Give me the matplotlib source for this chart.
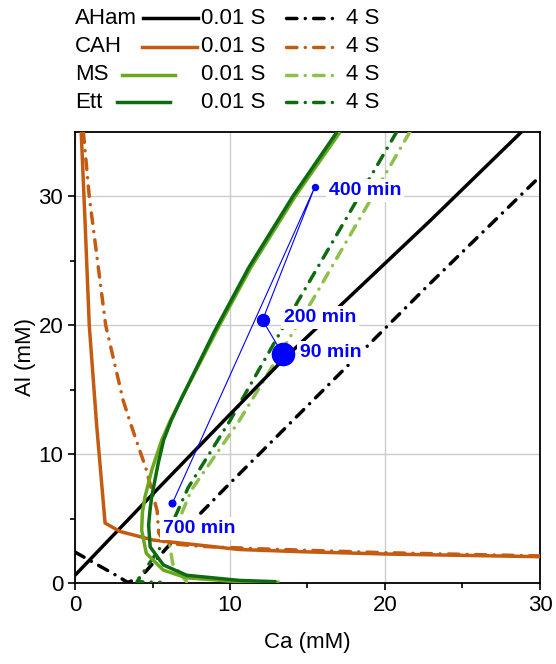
import matplotlib
matplotlib.use('Agg')
import matplotlib.pyplot as plt
from matplotlib.lines import Line2D

plt.rcParams['font.family'] = ['Liberation Sans', 'DejaVu Sans']
plt.rcParams['font.size'] = 16

# AHam
ca_aham_001 = [0, 4.85, 13.4, 22.9, 28.8]
al_aham_001 = [0.6, 6.7, 17.3, 28.1, 35]
ca_aham_4 = [0, 2.5, 3.4, 4.2, 5.9, 9.8, 22.7, 30]
al_aham_4 = [2.4, 0.7, 0.05, 0.4, 2.7, 7.5, 23.0, 31.55]

# CAH
ca_cah_001 = [0.4, 0.65, 0.92, 1.4, 1.94, 2.9, 5.05, 10.6, 14.5, 20, 30]
al_cah_001 = [35, 28, 20, 12.2, 4.65, 4.0, 3.33, 2.6, 2.43, 2.25, 2.04]
ca_cah_4 = [0.54, 0.92, 1.98, 3.1, 3.55, 4.6, 5.3, 5.4, 5.8, 8, 12, 20, 30]
al_cah_4 = [35, 30, 20, 14.2, 12.5, 8.8, 5.6, 3.9, 3.1, 2.85, 2.65, 2.35, 2.1]

# MS
ca_ms_001 = [17.1, 14.2, 11.35, 9.14, 6.9, 6.15, 5.6, 4.95, 4.52, 4.35, 4.3, 4.6, 5.7, 7.2, 10.6, 13.2]
al_ms_001 = [35, 30, 24.5, 19.6, 14.4, 12.6, 11.1, 8.76, 6.7, 5.5, 4.1, 2.3, 1.0, 0.4, 0.1, 0.05]
ca_ms_4 = [21.6, 15.3, 10.6, 7.5, 6.1, 6.3, 7.2]
al_ms_4 = [35, 21.9, 12.6, 7.2, 3.1, 1.5, 0.1]

# Ett
ca_ett_001 = [16.9, 14.05, 11.22, 9.03, 6.9, 6.2, 5.72, 5.37, 4.95, 4.84, 4.75, 4.85, 5.7, 7.2, 10.6, 13.0]
al_ett_001 = [35, 30, 24.5, 19.6, 14.4, 12.6, 11.1, 9.3, 6.7, 5.66, 4.5, 2.8, 1.4, 0.6, 0.2, 0.1]
ca_ett_4 = [20.75, 14.4, 10.0, 7.3, 5.7, 4.5, 4.0, 5.5]
al_ett_4 = [35, 21.9, 12.6, 7.4, 3.1, 1.0, 0.1, 0.05]

# measured points
time_labels = ['90 min', '200 min', '400 min', '700 min']
ca_meas = [13.4, 12.1, 15.46, 6.28]
al_meas = [17.75, 20.4, 30.7, 6.18]
marker_sizes = [16, 8.6, 4.3, 4.8]

names = ['AHam', 'CAH', 'MS', 'Ett']
colors_001 = ['black', '#c55a11', '#6aa81e', '#0e6b10']
colors_4 = ['black', '#c55a11', '#8dc04c', '#0e6b10']

lw = 2.5
dd = (3, 2.4, 0.01, 2.4)

fig = plt.figure(figsize=(5.56, 6.64), dpi=100)
ax = fig.add_axes([0.1349, 0.1220, 0.8363, 0.6792])

series = [
    (ca_aham_001, al_aham_001, ca_aham_4, al_aham_4),
    (ca_cah_001, al_cah_001, ca_cah_4, al_cah_4),
    (ca_ms_001, al_ms_001, ca_ms_4, al_ms_4),
    (ca_ett_001, al_ett_001, ca_ett_4, al_ett_4),
]

for i, (x1, y1, x4, y4) in enumerate(series):
    ax.plot(x4, y4, color=colors_4[i], lw=lw, dashes=dd,
            dash_capstyle='round', zorder=3)
for i, (x1, y1, x4, y4) in enumerate(series):
    ax.plot(x1, y1, color=colors_001[i], lw=lw, solid_capstyle='butt',
            solid_joinstyle='round', zorder=3)

# measured path 90 -> 200 -> 400 -> 700
ax.plot(ca_meas, al_meas, color='blue', lw=0.8, zorder=5)
for x, y, s in zip(ca_meas, al_meas, marker_sizes):
    ax.plot(x, y, 'o', color='blue', ms=s, zorder=6)

offsets = [(12.5, 1.5), (15.5, 2), (10, -2), (-7, -18)]
for lab, x, y, off in zip(time_labels, ca_meas, al_meas, offsets):
    ax.annotate(lab, (x, y), xytext=off, textcoords='offset points',
                ha='left', va='center', color='blue', fontsize=14,
                fontweight='bold', zorder=7,
                bbox=dict(boxstyle='square,pad=0.15', fc='white', ec='none'))

ax.set_xlim(0, 30)
ax.set_ylim(0, 35)
ax.set_xticks([0, 10, 20, 30])
ax.set_yticks([0, 10, 20, 30])
ax.set_xticks([5, 15, 25], minor=True)
ax.set_yticks([5, 15, 25], minor=True)
ax.tick_params(which='major', direction='out', length=5, width=1.2, labelsize=16)
ax.tick_params(which='minor', direction='out', length=3.5, width=1.2)
ax.grid(True, which='major', color='#cccccc', lw=1)
ax.set_axisbelow(True)
for sp in ax.spines.values():
    sp.set_linewidth(1.3)
ax.set_xlabel('Ca (mM)', fontsize=16, labelpad=12)
ax.set_ylabel('Al (mM)', fontsize=16, labelpad=2)

# custom legend at the top
W, H = 556.0, 664.0
rows_y = [18, 47, 75, 102]
solid_x = [(143, 198), (142, 197), (122, 175), (117, 170)]
for i in range(4):
    yf = 1 - rows_y[i] / H
    fig.text(75 / W, yf, names[i], ha='left', va='center', fontsize=16)
    fig.add_artist(Line2D([solid_x[i][0] / W, solid_x[i][1] / W], [yf, yf],
                          color=colors_001[i], lw=lw, transform=fig.transFigure))
    fig.text(201 / W, yf, '0.01 S', ha='left', va='center', fontsize=16)
    fig.add_artist(Line2D([286 / W, 332 / W], [yf, yf], color=colors_4[i], lw=lw,
                          dashes=dd, dash_capstyle='round',
                          transform=fig.transFigure))
    fig.text(346 / W, yf, '4 S', ha='left', va='center', fontsize=16)

fig.savefig('out.png', dpi=100)
